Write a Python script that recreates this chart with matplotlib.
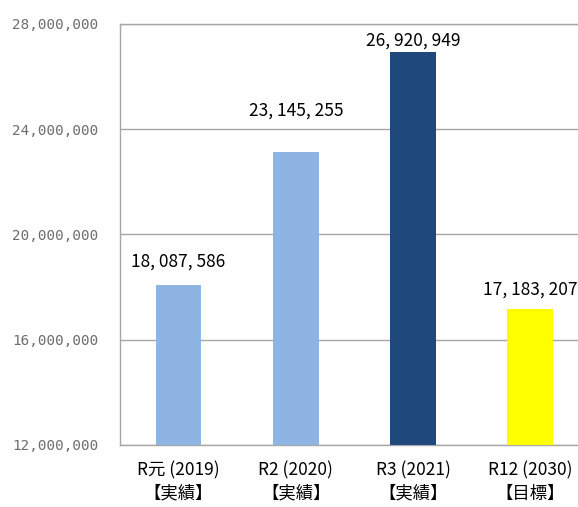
import matplotlib
matplotlib.use("Agg")
import matplotlib.pyplot as plt
from matplotlib.ticker import FuncFormatter

plt.rcParams['font.family'] = ['Noto Sans CJK JP', 'DejaVu Sans']

categories = ["R元 (2019)\n【実績】", "R2 (2020)\n【実績】", "R3 (2021)\n【実績】", "R12 (2030)\n【目標】"]
values = [18087586, 23145255, 26920949, 17183207]
colors = ["#8DB4E2", "#8DB4E2", "#1F497D", "#FFFF00"]
yticks = [12000000, 16000000, 20000000, 24000000, 28000000]
label_offsets_px = [23, 41, 12, 19]

fig = plt.figure(figsize=(5.78, 5.07), dpi=100)
ax = fig.add_axes([0.2076, 0.1223, 0.8114, 0.8304])

x = list(range(len(categories)))
ax.bar(x, values, width=0.39, color=colors, zorder=3)
ax.set_xlim(-0.5, 3.5)
ax.set_ylim(12000000, 28000000)
ax.set_yticks(yticks)
ax.yaxis.set_major_formatter(FuncFormatter(lambda v, p: f"{int(v):,}"))
ax.grid(axis='y', color='#A6A6A6', linewidth=1.0, zorder=0)
for s in ax.spines.values():
    s.set_color('#A6A6A6')
    s.set_linewidth(1.0)
ax.tick_params(axis='y', colors='#A6A6A6', labelcolor='#6E6E6E', labelsize=10.3, length=0, width=1.0, pad=15.5)
for t in ax.get_yticklabels():
    t.set_family('DejaVu Sans Mono')
ax.tick_params(axis='x', length=0, labelsize=12.5, pad=12, labelcolor='#000000')
ax.set_xticks(x)
ax.set_xticklabels(categories, linespacing=1.35)

for xi, v, off in zip(x, values, label_offsets_px):
    ax.annotate(f"{v:,}".replace(",", ", "), (xi, v), xytext=(0, off), textcoords='offset pixels',
                ha='center', va='center', fontsize=12.5, color='#000000')

fig.savefig("out.png", dpi=100)
